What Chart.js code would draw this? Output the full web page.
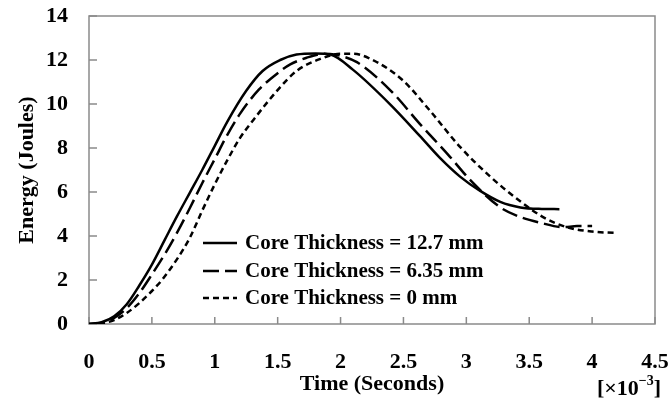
<!DOCTYPE html>
<html>
<head>
<meta charset="utf-8">
<script src="https://cdn.jsdelivr.net/npm/chart.js@4.4.0/dist/chart.umd.min.js"></script>
<style>
    html, body { margin: 0; padding: 0; background: #fff; }
    #wrap { width: 670px; height: 403px; }
</style>
</head>
<body>
<div id="wrap"><canvas id="energyChart" width="670" height="403"></canvas></div>
<script>
// time in ms (x10^-3 s), energy in Joules
const time_127 = [0, 0.1, 0.2, 0.3, 0.4, 0.5, 0.6, 0.7, 0.8, 0.9, 1.0, 1.1, 1.25, 1.38, 1.52, 1.65, 1.8, 1.92, 2.1, 2.4, 2.63, 2.79, 2.95, 3.11, 3.27, 3.43, 3.6, 3.74];
const energy_127 = [0, 0.08, 0.35, 0.9, 1.75, 2.7, 3.8, 4.9, 5.95, 7.0, 8.1, 9.2, 10.6, 11.5, 12.0, 12.25, 12.3, 12.25, 11.55, 9.95, 8.55, 7.55, 6.7, 6.05, 5.55, 5.3, 5.23, 5.22];

const time_635 = [0, 0.1, 0.2, 0.3, 0.4, 0.5, 0.6, 0.7, 0.8, 0.9, 1.0, 1.1, 1.2, 1.35, 1.5, 1.6, 1.73, 1.87, 1.95, 2.13, 2.4, 2.63, 2.87, 3.03, 3.27, 3.43, 3.59, 3.77, 3.88, 4.0];
const energy_635 = [0, 0.05, 0.28, 0.72, 1.4, 2.25, 3.15, 4.15, 5.25, 6.4, 7.5, 8.6, 9.55, 10.65, 11.4, 11.8, 12.1, 12.28, 12.25, 11.9, 10.6, 9.1, 7.6, 6.55, 5.3, 4.86, 4.6, 4.4, 4.45, 4.45];

const time_0 = [0, 0.1, 0.2, 0.3, 0.4, 0.5, 0.58, 0.7, 0.8, 0.9, 1.0, 1.1, 1.2, 1.31, 1.51, 1.65, 1.84, 2.0, 2.1, 2.22, 2.49, 2.71, 2.95, 3.19, 3.4, 3.61, 3.8, 4.0, 4.18];
const energy_0 = [0, 0.03, 0.18, 0.5, 0.95, 1.5, 2.0, 2.95, 3.9, 5.15, 6.35, 7.45, 8.45, 9.3, 10.7, 11.5, 12.05, 12.28, 12.28, 12.1, 11.1, 9.7, 8.05, 6.7, 5.7, 4.86, 4.4, 4.2, 4.14];

const series_labels = ["Core Thickness = 12.7 mm", "Core Thickness = 6.35 mm", "Core Thickness = 0 mm"];
const x_ticks = [0, 0.5, 1, 1.5, 2, 2.5, 3, 3.5, 4, 4.5];
const y_ticks = [0, 2, 4, 6, 8, 10, 12, 14];

const serif = "'Liberation Serif', 'Times New Roman', serif";
const axis_grey = "#8a8a8a";

function to_points(xs, ys) {
    return xs.map(function (x, i) { return { x: x, y: ys[i] }; });
}

function no_scale_padding(s) {
    s.paddingTop = 0;
    s.paddingBottom = 0;
    s.paddingLeft = 0;
    s.paddingRight = 0;
}

// inward tick marks + plot frame
const frame_plugin = {
    id: "frame_plugin",
    beforeDatasetsDraw: function (chart) {
        const ctx = chart.ctx;
        const area = chart.chartArea;
        const xs = chart.scales.x;
        const ys = chart.scales.y;
        ctx.save();
        ctx.strokeStyle = axis_grey;
        ctx.lineWidth = 1.5;
        ctx.strokeRect(area.left, area.top, area.right - area.left, area.bottom - area.top);
        ctx.beginPath();
        ys.ticks.forEach(function (t) {
            const py = ys.getPixelForValue(t.value);
            ctx.moveTo(area.left, py);
            ctx.lineTo(area.left + 8, py);
        });
        xs.ticks.forEach(function (t) {
            const px = xs.getPixelForValue(t.value);
            ctx.moveTo(px, area.bottom);
            ctx.lineTo(px, area.bottom - 7);
        });
        ctx.stroke();
        ctx.restore();
    }
};

// legend inside the plot + the [x10^-3] note
const legend_plugin = {
    id: "legend_plugin",
    afterDraw: function (chart) {
        const ctx = chart.ctx;
        ctx.save();
        ctx.font = "bold 21px " + serif;
        ctx.textBaseline = "middle";
        ctx.fillStyle = "#000";
        const rows = [243, 271, 298];
        chart.data.datasets.forEach(function (ds, i) {
            const y = rows[i];
            ctx.strokeStyle = "#000";
            ctx.lineWidth = ds.borderWidth;
            ctx.setLineDash(ds.borderDash || []);
            ctx.beginPath();
            ctx.moveTo(203, y);
            ctx.lineTo(237, y);
            ctx.stroke();
            ctx.setLineDash([]);
            ctx.fillText(ds.label, 245, y + 1);
        });

        // [×10^-3]
        ctx.textBaseline = "alphabetic";
        let x = 597;
        const base = 395;
        ctx.font = "bold 22px " + serif;
        ctx.fillText("[×10", x, base);
        x += ctx.measureText("[×10").width;
        ctx.font = "bold 14px " + serif;
        ctx.fillText("−3", x, base - 10);
        x += ctx.measureText("−3").width;
        ctx.font = "bold 22px " + serif;
        ctx.fillText("]", x, base);
        ctx.restore();
    }
};

new Chart(document.getElementById("energyChart"), {
    type: "line",
    data: {
        datasets: [
            {
                label: series_labels[0],
                data: to_points(time_127, energy_127),
                borderColor: "#000",
                borderWidth: 2.5,
                borderDash: [],
            },
            {
                label: series_labels[1],
                data: to_points(time_635, energy_635),
                borderColor: "#000",
                borderWidth: 2.5,
                borderDash: [16, 6],
            },
            {
                label: series_labels[2],
                data: to_points(time_0, energy_0),
                borderColor: "#000",
                borderWidth: 2.5,
                borderDash: [6, 4],
            },
        ],
    },
    options: {
        responsive: false,
        animation: false,
        devicePixelRatio: 1,
        layout: { padding: { top: 16, right: 15, left: 0, bottom: 0 } },
        elements: {
            point: { radius: 0 },
            line: { cubicInterpolationMode: "monotone", fill: false },
        },
        plugins: {
            legend: { display: false },
            tooltip: { enabled: false },
        },
        scales: {
            x: {
                type: "linear",
                min: 0,
                max: 4.5,
                afterBuildTicks: function (s) { s.ticks = x_ticks.map(function (v) { return { value: v }; }); },
                afterFit: function (s) { s.height = 79; no_scale_padding(s); },
                grid: { display: false, drawTicks: false },
                border: { display: false },
                ticks: {
                    padding: 25,
                    color: "#000",
                    maxRotation: 0,
                    font: { family: serif, size: 22, weight: "bold" },
                    callback: function (v) { return String(v); },
                },
                title: {
                    display: true,
                    text: "Time (Seconds)",
                    color: "#000",
                    padding: { top: 0, bottom: 5 },
                    font: { family: serif, size: 22, weight: "bold" },
                },
            },
            y: {
                type: "linear",
                min: 0,
                max: 14,
                afterBuildTicks: function (s) { s.ticks = y_ticks.map(function (v) { return { value: v }; }); },
                afterFit: function (s) { s.width = 89; no_scale_padding(s); },
                grid: { display: false, drawTicks: false },
                border: { display: false },
                ticks: {
                    padding: 21,
                    color: "#000",
                    font: { family: serif, size: 22, weight: "bold" },
                    callback: function (v) { return String(v); },
                },
                title: {
                    display: true,
                    text: "Energy (Joules)",
                    color: "#000",
                    padding: { top: 14, bottom: 0 },
                    font: { family: serif, size: 22, weight: "bold" },
                },
            },
        },
    },
    plugins: [frame_plugin, legend_plugin],
});
</script>
</body>
</html>
